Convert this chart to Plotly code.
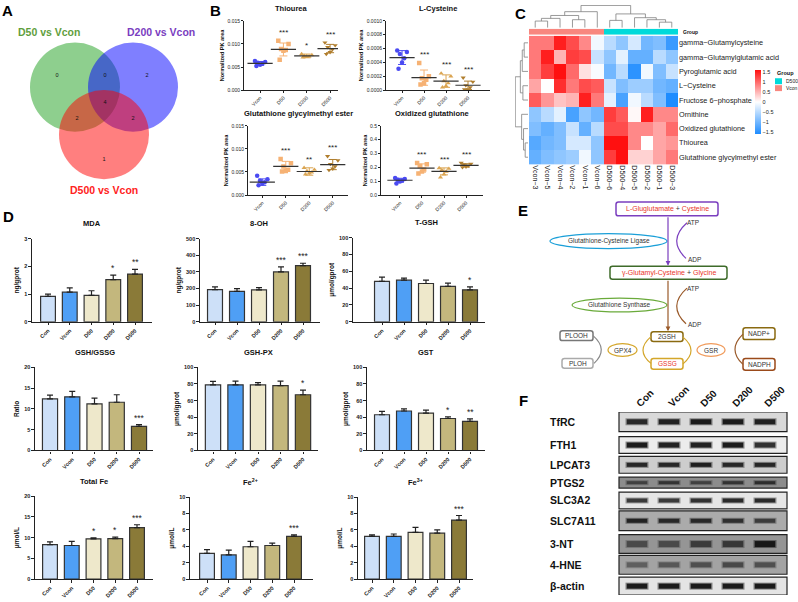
import plotly.graph_objects as go

W, H = 798, 602
FONT = "Liberation Sans, Arial, Helvetica, sans-serif"

# ======================= DATA =======================
# Panel A - Venn diagram counts
venn_sets = ["D50 vs Vcon", "D200 vs Vcon", "D500 vs Vcon"]
venn_region_counts = [0, 0, 2, 4, 2, 2, 1]

# Panel B - metabolite dot plots
b_groups = ["Vcon", "D50", "D200", "D500"]
thiourea_pts = [[0.0063, 0.0061, 0.0059, 0.0057, 0.0055, 0.0052],
                [0.0107, 0.0100, 0.0089, 0.0087, 0.0085, 0.0066],
                [0.0078, 0.0076, 0.0074, 0.0073, 0.0072, 0.0071],
                [0.0103, 0.0097, 0.0093, 0.0088, 0.0082, 0.0078]]
thiourea_mean = [0.0058, 0.0088, 0.0074, 0.0090]
thiourea_sd = [0.0004, 0.0014, 0.0004, 0.0009]
thiourea_sig = ["", "***", "*", "***"]

cysteine_pts = [[0.00057, 0.00055, 0.00052, 0.00046, 0.00040, 0.00031],
                [0.00039, 0.00020, 0.00017, 0.00015, 0.00010, 0.00008],
                [0.00024, 0.00020, 0.00013, 0.00010, 0.00006, 0.00004],
                [0.00018, 0.00012, 0.00007, 0.00004, 0.00001, 0.00001]]
cysteine_mean = [0.00047, 0.00018, 0.00013, 0.00007]
cysteine_sd = [0.00010, 0.00011, 0.00009, 0.00006]
cysteine_sig = ["", "***", "***", "***"]

gge_pts = [[0.0042, 0.0034, 0.0031, 0.0028, 0.0025, 0.0021],
           [0.0078, 0.0069, 0.0062, 0.0055, 0.0052, 0.0051],
           [0.0059, 0.0055, 0.0052, 0.0049, 0.0047, 0.0045],
           [0.0084, 0.0075, 0.0067, 0.0062, 0.0057, 0.0054]]
gge_mean = [0.0028, 0.0062, 0.0051, 0.0066]
gge_sd = [0.0007, 0.0011, 0.0008, 0.0011]
gge_sig = ["", "***", "**", "***"]

oxg_pts = [[0.124, 0.115, 0.110, 0.105, 0.098, 0.083],
           [0.232, 0.222, 0.210, 0.185, 0.170, 0.155],
           [0.195, 0.190, 0.180, 0.170, 0.150, 0.128],
           [0.232, 0.225, 0.220, 0.212, 0.205, 0.200]]
oxg_mean = [0.107, 0.195, 0.171, 0.214]
oxg_sd = [0.014, 0.030, 0.025, 0.012]
oxg_sig = ["", "***", "***", "***"]

# Panel C - heatmap
heat_rows = ["gamma−Glutamylcysteine", "gamma−Glutamylglutamic acid", "Pyroglutamic acid",
             "L−Cysteine", "Fructose 6−phosphate", "Ornithine", "Oxidized glutathione",
             "Thiourea", "Glutathione glycylmethyl ester"]
heat_cols = ["Vcon−3", "Vcon−5", "Vcon−4", "Vcon−2", "Vcon−1", "Vcon−6",
             "D500−6", "D500−4", "D500−5", "D500−2", "D500−1", "D500−3"]
heat_group = ["Vcon"] * 6 + ["D500"] * 6
heat_z = [
    [0.9, 0.9, 1.5, 1.2, 0.8, -0.1, -0.5, -0.8, -0.3, -1.0, -0.9, -1.4],
    [0.9, 1.5, 0.5, 1.3, 1.2, -0.4, -0.8, -0.2, -1.1, -1.1, -0.5, -0.8],
    [0.9, 1.3, 1.6, 1.0, 0.2, -0.05, -1.0, -0.5, -1.5, -0.1, -0.9, -0.4],
    [0.6, 0.0, 1.4, 0.9, 1.2, 1.1, -0.4, -0.9, -0.7, -0.7, -1.0, -1.1],
    [1.1, 0.7, 0.4, 0.5, 1.5, 0.9, -0.2, -1.3, -0.1, -0.5, -0.9, -1.6],
    [-0.8, -0.5, -0.2, -1.3, -0.8, -1.0, 1.3, 1.1, 0.05, 1.5, 0.8, 0.8],
    [-0.9, -1.1, -0.9, -0.4, -1.1, -0.5, 1.2, 1.2, 0.8, 0.8, 0.6, 1.0],
    [-1.2, -1.0, -0.9, -0.3, -0.3, -0.8, 1.6, 1.6, 0.8, 0.0, 0.6, 0.7],
    [-1.1, -0.9, -0.8, -0.7, -0.1, -0.8, 1.3, 1.7, 0.3, 0.3, 0.6, 0.9],
]
# dendrogram merges: (a, b, height); indices >= n refer to earlier merges
col_merges = [(0, 1, 0.30), (12, 2, 0.42), (3, 4, 0.36), (13, 14, 0.55), (15, 5, 0.72),
              (10, 11, 0.25), (9, 17, 0.36), (8, 18, 0.45), (6, 7, 0.33), (20, 19, 0.62),
              (16, 21, 1.0)]
row_merges = [(0, 1, 0.30), (9, 2, 0.45), (3, 4, 0.40), (10, 11, 0.6),
              (7, 8, 0.22), (6, 13, 0.35), (5, 14, 0.5), (12, 15, 1.0)]

# Panel D - bar charts
d_groups = ["Con", "Vcon", "D50", "D200", "D500"]
mda = [0.92, 1.07, 0.95, 1.52, 1.72]
mda_err = [0.08, 0.15, 0.17, 0.16, 0.17]
mda_sig = ["", "", "", "*", "**"]
oh8 = [193, 183, 192, 300, 338]
oh8_err = [17, 17, 13, 30, 14]
oh8_sig = ["", "", "", "***", "***"]
tgsh = [48, 49.5, 45.5, 42, 38]
tgsh_err = [5, 2.5, 4, 4, 3.5]
tgsh_sig = ["", "", "", "", "*"]
gsh_gssg = [12.4, 12.9, 11.2, 11.6, 5.8]
gsh_gssg_err = [0.9, 1.3, 1.4, 1.8, 0.4]
gsh_gssg_sig = ["", "", "", "", "***"]
gshpx = [79, 79, 79, 78, 67]
gshpx_err = [4, 4.5, 2.5, 5.5, 5.5]
gshpx_sig = ["", "", "", "", "*"]
gst = [43, 47.5, 45, 38.5, 35]
gst_err = [4, 2.5, 3.5, 2, 3]
gst_sig = ["", "", "", "*", "**"]
tfe = [8.3, 8.1, 9.7, 9.75, 12.4]
tfe_err = [0.7, 1.0, 0.25, 0.35, 0.7]
tfe_sig = ["", "", "*", "*", "***"]
fe2 = [3.15, 2.95, 3.95, 4.1, 5.2]
fe2_err = [0.45, 0.6, 0.65, 0.3, 0.2]
fe2_sig = ["", "", "", "", "***"]
fe3 = [5.2, 5.2, 5.7, 5.6, 7.2]
fe3_err = [0.2, 0.3, 0.6, 0.4, 0.55]
fe3_sig = ["", "", "", "", "***"]

# Panel F - western blot
blot_rows = ["TfRC", "FTH1", "LPCAT3", "PTGS2", "SLC3A2", "SLC7A11", "3-NT", "4-HNE", "β-actin"]
blot_lanes = ["Con", "Vcon", "D50", "D200", "D500"]
band_intensity = [
    [0.80, 0.85, 0.90, 0.90, 0.85],
    [0.90, 0.85, 0.85, 0.90, 0.75],
    [0.80, 0.80, 0.85, 0.80, 0.80],
    [0.50, 0.60, 0.50, 0.60, 0.65],
    [0.70, 0.70, 0.75, 0.80, 0.80],
    [0.80, 0.75, 0.75, 0.70, 0.60],
    [0.45, 0.45, 0.55, 0.60, 0.90],
    [0.35, 0.40, 0.45, 0.50, 0.45],
    [0.90, 0.90, 0.90, 0.90, 0.90],
]

# ======================= HELPERS =======================
fig = go.Figure()
axes_layout = {}
anns = []
shapes = []
_n = [0]
HID = dict(visible=False)


def make_axes(px, xr, yr, xkw=None, ykw=None):
    x0, x1, y0, y1 = px
    _n[0] += 1
    s = "" if _n[0] == 1 else str(_n[0])
    xa = dict(domain=[x0 / W, x1 / W], range=xr, anchor="y" + s, showgrid=False,
              zeroline=False, fixedrange=True)
    ya = dict(domain=[1 - y1 / H, 1 - y0 / H], range=yr, anchor="x" + s, showgrid=False,
              zeroline=False, fixedrange=True)
    if xkw:
        xa.update(xkw)
    if ykw:
        ya.update(ykw)
    axes_layout["xaxis" + s] = xa
    axes_layout["yaxis" + s] = ya
    return "x" + s, "y" + s


def ptext(x, y, text, size, color="#111", bold=False, xanchor="center", yanchor="middle", angle=0):
    anns.append(dict(x=x / W, y=1 - y / H, xref="paper", yref="paper", text=text, showarrow=False,
                     xanchor=xanchor, yanchor=yanchor, textangle=angle,
                     font=dict(size=size, color=color, family=FONT, weight="bold" if bold else "normal")))


# panel letters
for letter, (lx, ly) in zip("ABCDEF", [(7, 8), (215, 8), (520, 11), (8, 216), (523, 210), (523, 401)]):
    ptext(lx, ly, letter, 15, "#000", True)

# ======================= PANEL A =======================
ax, ay = make_axes((0, 210, 0, 200), [0, 210], [200, 0], HID, HID)
venn_centers = [(75, 85), (133, 85), (104, 133)]
venn_r = 45
venn_fill = ["rgba(30,160,30,0.5)", "rgba(0,0,255,0.5)", "rgba(255,0,0,0.5)"]
venn_text_col = ["#5f9e3d", "#7a3dbf", "#ff2222"]
venn_label_pos = [(49, 29), (161, 29), (104, 189)]
for (cx, cy), fc in zip(venn_centers, venn_fill):
    shapes.append(dict(type="circle", xref=ax, yref=ay, x0=cx - venn_r, x1=cx + venn_r,
                       y0=cy - venn_r, y1=cy + venn_r, fillcolor=fc, line=dict(width=0), layer="below"))
venn_region_pos = [(57, 73), (105, 73), (147, 73), (105, 101), (77, 117), (133, 117), (104, 158)]
fig.add_trace(go.Scatter(x=[p[0] for p in venn_region_pos], y=[p[1] for p in venn_region_pos],
                         text=[str(c) for c in venn_region_counts], mode="text",
                         textfont=dict(size=5.5, color="#111", family=FONT), xaxis=ax, yaxis=ay))
for name, (lx, ly), col in zip(venn_sets, venn_label_pos, venn_text_col):
    anns.append(dict(x=lx, y=ly, xref=ax, yref=ay, text=name, showarrow=False,
                     font=dict(size=10.5, color=col, family=FONT, weight="bold")))

# ======================= PANEL B =======================
b_colors = ["#4a4af2", "#f6b274", "#dba552", "#b07e2e"]
b_symbols = ["circle", "square", "triangle-up", "triangle-down"]
jitter = [-0.22, 0.22, -0.1, 0.1, 0.0, -0.16]
B_specs = [
    ("Thiourea", thiourea_pts, thiourea_mean, thiourea_sd, thiourea_sig,
     (244, 338, 18, 88), [-0.69, 3.34], [0, 0.015],
     [0, 0.005, 0.010, 0.015], ["0.000", "0.005", "0.010", "0.015"]),
    ("L-Cysteine", cysteine_pts, cysteine_mean, cysteine_sd, cysteine_sig,
     (386, 490, 18, 88), [-0.73, 4.0], [0, 0.001],
     [0, 0.0002, 0.0004, 0.0006, 0.0008, 0.001],
     ["0.0000", "0.0002", "0.0004", "0.0006", "0.0008", "0.0010"]),
    ("Glutathione glycylmethyl ester", gge_pts, gge_mean, gge_sd, gge_sig,
     (248, 348, 124, 194), [-0.61, 3.65], [0, 0.015],
     [0, 0.005, 0.010, 0.015], ["0.000", "0.005", "0.010", "0.015"]),
    ("Oxidized glutathione", oxg_pts, oxg_mean, oxg_sd, oxg_sig,
     (381, 483, 124, 194), [-0.86, 3.77], [0, 0.5],
     [0, 0.1, 0.2, 0.3, 0.4, 0.5], ["0.0", "0.1", "0.2", "0.3", "0.4", "0.5"]),
]
for title, pts, mean, sd, sig, px, xr, yr, tv, tt in B_specs:
    xa, ya = make_axes(
        px, xr, yr,
        dict(showline=True, linecolor="#222", linewidth=1, ticks="outside", ticklen=2, tickwidth=0.8,
             tickcolor="#222", tickvals=[0, 1, 2, 3], ticktext=b_groups, tickangle=-45,
             tickfont=dict(size=5, family=FONT, color="#222")),
        dict(showline=True, linecolor="#222", linewidth=1, ticks="outside", ticklen=2, tickwidth=0.8,
             tickcolor="#222", tickvals=tv, ticktext=tt, tickfont=dict(size=5, family=FONT, color="#222"),
             title=dict(text="Normalized PK area", standoff=2,
                        font=dict(size=5.5, family=FONT, weight="bold", color="#111"))))
    for g in range(4):
        fig.add_trace(go.Scatter(x=[g + j for j in jitter[:len(pts[g])]], y=pts[g], mode="markers",
                                 marker=dict(symbol=b_symbols[g], size=4.5, color=b_colors[g]),
                                 xaxis=xa, yaxis=ya))
        fig.add_trace(go.Scatter(x=[g], y=[mean[g]], mode="markers",
                                 marker=dict(symbol="line-ew", size=18, color="#333",
                                             line=dict(color="#333", width=1.2)),
                                 error_y=dict(type="data", array=[sd[g]], color=b_colors[g],
                                              thickness=1, width=4),
                                 xaxis=xa, yaxis=ya))
        if sig[g]:
            anns.append(dict(x=g, y=max(max(pts[g]), mean[g] + sd[g]), xref=xa, yref=ya, text=sig[g],
                             showarrow=False, yanchor="bottom", yshift=2,
                             font=dict(size=8, family=FONT, color="#222")))
    ptext((px[0] + px[1]) / 2, px[2] - 12, title, 7.5, "#111", True)

# ======================= PANEL C =======================
hx, hy = make_axes(
    (529, 678, 33, 163), [-0.5, 11.5], [8.5, -0.5],
    dict(tickvals=list(range(12)), ticktext=heat_cols, tickangle=90, ticks="", showline=False,
         tickfont=dict(size=7, family=FONT, color="#222")),
    dict(side="right", tickvals=list(range(9)), ticktext=heat_rows, ticks="", showline=False,
         tickfont=dict(size=7.3, family=FONT, color="#222")))
fig.add_trace(go.Heatmap(
    z=heat_z, x=list(range(12)), y=list(range(9)), xaxis=hx, yaxis=hy,
    colorscale=[[0, "#1E8CFF"], [0.5, "#FFFFFF"], [1, "#FF1010"]], zmin=-1.6, zmax=1.6,
    colorbar=dict(x=755 / W, xanchor="left", y=1 - 100.5 / H, yanchor="middle", len=65 / H,
                  lenmode="fraction", thickness=6, thicknessmode="pixels", outlinewidth=0,
                  tickvals=[-1.5, -1, -0.5, 0, 0.5, 1, 1.5],
                  ticktext=["−1.5", "−1", "−0.5", "0", "0.5", "1", "1.5"], ticks="",
                  tickfont=dict(size=5.5, family=FONT, color="#222"), xpad=0, ypad=0)))
gx, gy = make_axes((529, 678, 26, 32), [-0.5, 11.5], [0.5, -0.5], HID, HID)
group_codes = [[0 if g == "Vcon" else 1 for g in heat_group]]
fig.add_trace(go.Heatmap(z=group_codes, x=list(range(12)), y=[0], xaxis=gx, yaxis=gy, showscale=False,
                         zmin=0, zmax=1,
                         colorscale=[[0, "#F8877F"], [0.5, "#F8877F"], [0.5, "#00DADA"], [1, "#00DADA"]]))
ptext(681, 29, "Group", 5, "#111", True, xanchor="left")
# group legend
ptext(775, 71, "Group", 5.5, "#111", True, xanchor="left")
for i, (lab, col) in enumerate([("D500", "#00DADA"), ("Vcon", "#F8877F")]):
    yy = 76 + i * 7
    shapes.append(dict(type="rect", xref="paper", yref="paper", x0=775 / W, x1=782 / W,
                       y0=1 - (yy + 6) / H, y1=1 - yy / H, fillcolor=col, line=dict(width=0)))
    ptext(783.5, yy + 3, lab, 5, "#222", False, xanchor="left")


def dendro(merges, n):
    pos = {i: (float(i), 0.0) for i in range(n)}
    a_s, h_s = [], []
    for k, (a, b, h) in enumerate(merges):
        pa, ha = pos[a]
        pb, hb = pos[b]
        a_s += [pa, pa, pb, pb, None]
        h_s += [ha, h, h, hb, None]
        pos[n + k] = ((pa + pb) / 2, h)
    return a_s, h_s


tx, ty = make_axes((529, 678, 2, 25), [-0.5, 11.5], [0, 1.02], HID, HID)
dx, dh = dendro(col_merges, 12)
fig.add_trace(go.Scatter(x=dx, y=dh, mode="lines", line=dict(color="#808080", width=0.8),
                         xaxis=tx, yaxis=ty))
lx_, ly_ = make_axes((515, 528, 33, 163), [1.02, 0], [8.5, -0.5], HID, HID)
rx, rh = dendro(row_merges, 9)
fig.add_trace(go.Scatter(x=rh, y=rx, mode="lines", line=dict(color="#808080", width=0.8),
                         xaxis=lx_, yaxis=ly_))

# ======================= PANEL D =======================
d_colors = ["#cde0f8", "#4f9ff5", "#eee8cb", "#c3b77d", "#8a7a38"]
D_specs = [
    ("MDA", mda, mda_err, mda_sig, "ng/gprot", (32, 152, 238, 322), 48, 21.75, 3, 1),
    ("8-OH", oh8, oh8_err, oh8_sig, "ng/gprot", (200, 320, 238, 322), 215, 22, 500, 100),
    ("T-GSH", tgsh, tgsh_err, tgsh_sig, "μmol/gprot", (353, 485, 237, 322), 382, 22, 100, 20),
    ("GSH/GSSG", gsh_gssg, gsh_gssg_err, gsh_gssg_sig, "Ratio", (35, 153, 368, 452), 50, 22.25, 20, 5),
    ("GSH-PX", gshpx, gshpx_err, gshpx_sig, "μmol/gprot", (198, 318, 368, 452), 213, 22.5, 100, 20),
    ("GST", gst, gst_err, gst_sig, "μmol/gprot", (367, 485, 368, 452), 382, 22, 100, 20),
    ("Total Fe", tfe, tfe_err, tfe_sig, "μmol/L", (35, 153, 498, 582), 50, 21.75, 20, 5),
    ("Fe<sup>2+</sup>", fe2, fe2_err, fe2_sig, "μmol/L", (190, 313, 499, 582), 207, 21.75, 10, 2),
    ("Fe<sup>3+</sup>", fe3, fe3_err, fe3_sig, "μmol/L", (358, 473, 499, 582), 372, 21.75, 10, 2),
]
for title, vals, errs, sig, ylab, px, first_px, step, ymax, dt in D_specs:
    xr = [(px[0] - first_px) / step, (px[1] - first_px) / step]
    xa, ya = make_axes(
        px, xr, [0, ymax],
        dict(showline=True, linecolor="#222", linewidth=1.3, ticks="outside", ticklen=2.5, tickwidth=1,
             tickcolor="#222", tickvals=list(range(5)), ticktext=d_groups, tickangle=-45,
             tickfont=dict(size=5.5, family=FONT, color="#222", weight="bold")),
        dict(showline=True, linecolor="#222", linewidth=1.3, ticks="outside", ticklen=2.5, tickwidth=1,
             tickcolor="#222", tick0=0, dtick=dt, tickfont=dict(size=5.5, family=FONT, color="#222", weight="bold"),
             title=dict(text=ylab, standoff=3, font=dict(size=6.5, family=FONT, weight="bold", color="#111"))))
    fig.add_trace(go.Bar(x=list(range(5)), y=vals, width=0.68, xaxis=xa, yaxis=ya,
                         marker=dict(color=d_colors, line=dict(color="#333", width=1.2)),
                         error_y=dict(type="data", array=errs, arrayminus=[0] * 5, symmetric=False,
                                      color="#222", thickness=1.2, width=3)))
    for i in range(5):
        if sig[i]:
            anns.append(dict(x=i, y=vals[i] + errs[i], xref=xa, yref=ya, text=sig[i], showarrow=False,
                             yanchor="bottom", yshift=0, font=dict(size=8.5, family=FONT, color="#222")))
    anns.append(dict(x=2, y=1 - (px[2] - 15) / H, xref=xa, yref="paper", text=title, showarrow=False,
                     yanchor="middle", font=dict(size=7.5, family=FONT, weight="bold", color="#111")))

# ======================= PANEL E =======================
ex, ey = make_axes((530, 798, 195, 400), [530, 798], [400, 195], HID, HID)


def rrect(cx, cy, w, h, r=2.5):
    x0, x1, y0, y1 = cx - w / 2, cx + w / 2, cy - h / 2, cy + h / 2
    return (f"M{x0 + r},{y0} L{x1 - r},{y0} Q{x1},{y0} {x1},{y0 + r} L{x1},{y1 - r} "
            f"Q{x1},{y1} {x1 - r},{y1} L{x0 + r},{y1} Q{x0},{y1} {x0},{y1 - r} "
            f"L{x0},{y0 + r} Q{x0},{y0} {x0 + r},{y0} Z")


RED = "#e8352b"
diagram_nodes = [
    ("box", 667, 208, 102, 14, "#7b3fbf",
     f'<span style="color:{RED}">L-Gluglutamate</span> + <span style="color:{RED}">Cysteine</span>', 7),
    ("ell", 608.5, 240.5, 117, 15, "#1a9fd8", "Glutathione-Cysteine Ligase", 6.5),
    ("box", 668.5, 272.5, 117, 13, "#3e6b2a",
     f'<span style="color:{RED}">γ-Glutamyl-Cysteine</span> + <span style="color:{RED}">Glycine</span>', 7),
    ("ell", 619.5, 305, 95, 14, "#6aaa3a", "Glutathione Synthase", 6.5),
    ("box", 667, 337, 32, 10, "#8a6a10", "2GSH", 6.5),
    ("box", 667, 364.5, 32, 11, "#d4a62a", f'<span style="color:{RED}">GSSG</span>', 6.5),
    ("box", 576.5, 336, 33, 10, "#777777", "PLOOH", 6.5),
    ("box", 577.5, 364, 31, 10, "#aaaaaa", "PLOH", 6.5),
    ("ell", 622.5, 350.5, 29, 13, "#d4a62a", "GPX4", 6.5),
    ("ell", 711, 350.5, 28, 13, "#f09a5a", "GSR", 6.5),
    ("box", 759, 334, 32, 12, "#8a6a10", "NADP+", 6.5),
    ("box", 759, 365, 32, 12, "#9a4a1a", "NADPH", 6.5),
]
for kind, cx, cy, w, h, col, txt, fs in diagram_nodes:
    if kind == "box":
        shapes.append(dict(type="path", xref=ex, yref=ey, path=rrect(cx, cy, w, h),
                           line=dict(color=col, width=1.5), fillcolor="white"))
    else:
        shapes.append(dict(type="circle", xref=ex, yref=ey, x0=cx - w / 2, x1=cx + w / 2,
                           y0=cy - h / 2, y1=cy + h / 2, line=dict(color=col, width=1.2),
                           fillcolor="white"))
    anns.append(dict(x=cx, y=cy, xref=ex, yref=ey, text=txt, showarrow=False,
                     font=dict(size=fs, family=FONT, color="#333")))
for txt, tx_, ty_ in [("ATP", 693, 222), ("ADP", 694, 259), ("ATP", 693, 288), ("ADP", 694, 325)]:
    anns.append(dict(x=tx_, y=ty_, xref=ex, yref=ey, text=txt, showarrow=False,
                     font=dict(size=6.5, family=FONT, color="#333")))

# straight arrows
for (x0, y0, x1, y1, col) in [(668, 215, 668, 265.5, "#7b3fbf"), (668, 279, 668, 331.5, "#9a5a2a")]:
    anns.append(dict(x=x1, y=y1, ax=x0, ay=y0, xref=ex, yref=ey, axref=ex, ayref=ey, text="",
                     showarrow=True, arrowhead=2, arrowsize=0.8, arrowwidth=1.2, arrowcolor=col))
# curved arrows (quadratic bezier)
curves = [
    ((687, 222), (667, 240), (686, 258), "#7b3fbf"),
    ((687, 288), (667, 306), (686, 324), "#9a5a2a"),
    ((651, 337), (635, 351), (651, 364), "#d4a62a"),
    ((683, 364.5), (699, 351), (683, 337.5), "#d4a62a"),
    ((593, 336), (609, 350), (594, 364), "#888888"),
    ((743, 365), (727, 350), (743, 334.5), "#9a5a2a"),
]
for (p0, c, p1, col) in curves:
    shapes.append(dict(type="path", xref=ex, yref=ey,
                       path=f"M{p0[0]},{p0[1]} Q{c[0]},{c[1]} {p1[0]},{p1[1]}",
                       line=dict(color=col, width=1.2)))
    dxv, dyv = p1[0] - c[0], p1[1] - c[1]
    norm = (dxv ** 2 + dyv ** 2) ** 0.5
    anns.append(dict(x=p1[0], y=p1[1], ax=p1[0] - 3 * dxv / norm, ay=p1[1] - 3 * dyv / norm,
                     xref=ex, yref=ey, axref=ex, ayref=ey, text="", showarrow=True, arrowhead=2,
                     arrowsize=0.9, arrowwidth=1.2, arrowcolor=col))

# ======================= PANEL F =======================
lane_px0, lane_step = 637, 32
fx, fy = make_axes((617, 789, 413, 598), [(617 - lane_px0) / lane_step, (789 - lane_px0) / lane_step],
                   [598, 413],
                   dict(side="top", tickvals=list(range(5)), ticktext=blot_lanes, tickangle=-45, ticks="",
                        showline=False, tickfont=dict(size=10, family=FONT, color="#111", weight="bold")),
                   HID)
row_box = [(413, 433), (438, 455), (458, 475), (479, 490), (494, 511), (513, 533), (537, 556),
           (558, 577), (580, 598)]
row_bg = ["#d9d9d9", "#ececec", "#cdcdcd", "#8c8c8c", "#e6e6e6", "#ababab", "#959595", "#a3a3a3", "#e4e4e4"]
band_thick = [5, 5, 4, 3, 4, 4, 6, 5, 5]
bx0, bx1 = (619 - lane_px0) / lane_step, (787 - lane_px0) / lane_step
for r, name in enumerate(blot_rows):
    t, b = row_box[r]
    shapes.append(dict(type="rect", xref=fx, yref=fy, x0=bx0, x1=bx1, y0=t, y1=b, fillcolor=row_bg[r],
                       line=dict(color="#222", width=1.2), layer="below"))
    yc = (t + b) / 2
    for l in range(5):
        a = band_intensity[r][l]
        fig.add_trace(go.Scatter(x=[l - 0.36, l + 0.36], y=[yc, yc], mode="lines",
                                 line=dict(color=f"rgba(25,25,25,{a * 0.5:.2f})", width=band_thick[r] + 2),
                                 xaxis=fx, yaxis=fy))
        fig.add_trace(go.Scatter(x=[l - 0.32, l + 0.32], y=[yc, yc], mode="lines",
                                 line=dict(color=f"rgba(15,15,15,{a:.2f})", width=band_thick[r]),
                                 xaxis=fx, yaxis=fy))
    ptext(548, yc, name, 10.5, "#111", True, xanchor="left")

# ======================= LAYOUT =======================
fig.update_traces(showlegend=False, hoverinfo="skip")
fig.update_layout(width=W, height=H, margin=dict(l=0, r=0, t=0, b=0), paper_bgcolor="white",
                  plot_bgcolor="rgba(0,0,0,0)", font=dict(family=FONT, color="#111"),
                  annotations=anns, shapes=shapes, showlegend=False, **axes_layout)
fig.write_html("out.html", config={"displayModeBar": False},
               post_script="document.body.style.margin='0px';document.body.style.overflow='hidden';")
